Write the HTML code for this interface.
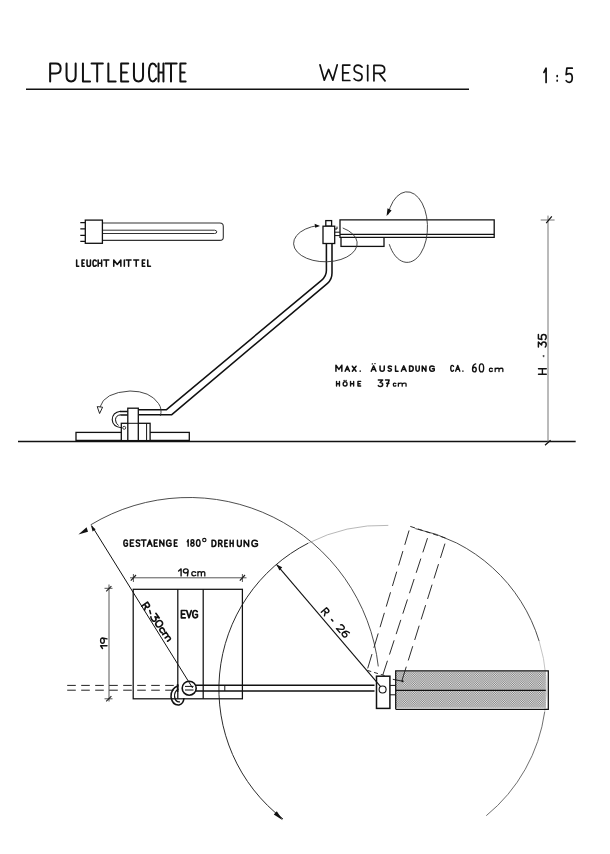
<!DOCTYPE html>
<html><head><meta charset="utf-8"><title>Pultleuchte Wesir</title>
<style>
html,body{margin:0;padding:0;background:#fff;}
body{width:610px;height:854px;overflow:hidden;font-family:"Liberation Sans",sans-serif;}
svg{display:block;}
</style></head><body>
<svg width="610" height="854" viewBox="0 0 610 854">
<rect width="610" height="854" fill="#fff"/>
<g fill="none" stroke="#111" stroke-width="2.0" stroke-linecap="round" stroke-linejoin="round"><path d="M0 1 L0 0 L0.3 0 Q0.55 0 0.55 0.27 Q0.55 0.55 0.3 0.55 L0 0.55" transform="translate(50.15,63.60) scale(19.091,17.800)" vector-effect="non-scaling-stroke"/><path d="M0 0 L0 0.7 Q0 1 0.29 1 Q0.58 1 0.58 0.7 L0.58 0" transform="translate(66.55,63.60) scale(15.690,17.800)" vector-effect="non-scaling-stroke"/><path d="M0 0 L0 1 L0.48 1" transform="translate(82.95,63.60) scale(14.792,17.800)" vector-effect="non-scaling-stroke"/><path d="M0 0 L0.6 0 M0.3 0 L0.3 1" transform="translate(91.55,63.60) scale(18.833,17.800)" vector-effect="non-scaling-stroke"/><path d="M0 0 L0 1 L0.48 1" transform="translate(108.35,63.60) scale(15.208,17.800)" vector-effect="non-scaling-stroke"/><path d="M0.5 0 L0 0 L0 1 L0.5 1 M0 0.5 L0.4 0.5" transform="translate(121.15,63.60) scale(14.200,17.800)" vector-effect="non-scaling-stroke"/><path d="M0 0 L0 0.7 Q0 1 0.29 1 Q0.58 1 0.58 0.7 L0.58 0" transform="translate(133.95,63.60) scale(15.690,17.800)" vector-effect="non-scaling-stroke"/><path d="M0.58 0.16 Q0.45 0 0.3 0 Q0 0 0 0.5 Q0 1 0.3 1 Q0.45 1 0.58 0.84" transform="translate(148.95,63.60) scale(12.586,17.800)" vector-effect="non-scaling-stroke"/><path d="M0 0 L0 1 M0.58 0 L0.58 1 M0 0.5 L0.58 0.5" transform="translate(158.55,63.60) scale(8.448,17.800)" vector-effect="non-scaling-stroke"/><path d="M0 0 L0.6 0 M0.3 0 L0.3 1" transform="translate(165.35,63.60) scale(18.833,17.800)" vector-effect="non-scaling-stroke"/><path d="M0.5 0 L0 0 L0 1 L0.5 1 M0 0.5 L0.4 0.5" transform="translate(180.35,63.60) scale(10.600,17.800)" vector-effect="non-scaling-stroke"/></g>
<g fill="none" stroke="#111" stroke-width="1.7" stroke-linecap="round" stroke-linejoin="round"><path d="M0 0 L0.24 1 L0.475 0.3 L0.71 1 L0.95 0" transform="translate(319.95,64.80) scale(18.211,15.400)" vector-effect="non-scaling-stroke"/><path d="M0.5 0 L0 0 L0 1 L0.5 1 M0 0.5 L0.4 0.5" transform="translate(342.75,65.08) scale(14.200,15.400)" vector-effect="non-scaling-stroke"/><path d="M0.52 0.12 Q0.4 0 0.26 0 Q0 0 0 0.25 Q0 0.45 0.26 0.5 Q0.52 0.55 0.52 0.75 Q0.52 1 0.26 1 Q0.1 1 0 0.88" transform="translate(354.15,65.21) scale(15.192,15.400)" vector-effect="non-scaling-stroke"/><path d="M0.02 0 L0.02 1" transform="translate(367.40,65.37) scale(15.400,15.400)" vector-effect="non-scaling-stroke"/><path d="M0 1 L0 0 L0.3 0 Q0.55 0 0.55 0.26 Q0.55 0.52 0.3 0.52 L0 0.52 M0.27 0.52 L0.57 1" transform="translate(373.95,65.45) scale(19.455,15.400)" vector-effect="non-scaling-stroke"/></g>
<g fill="none" stroke="#111" stroke-width="1.7" stroke-linecap="round" stroke-linejoin="round"><path d="M0 0.3 L0.26 0 L0.26 1" transform="translate(543.95,68.20) scale(8.214,14.200)" vector-effect="non-scaling-stroke"/><path d="M0.02 0.52 L0.02 0.58 M0.02 0.85 L0.02 0.9" transform="translate(556.90,68.20) scale(14.200,14.200)" vector-effect="non-scaling-stroke"/><path d="M0.5 0 L0.06 0 L0 0.45 Q0.15 0.38 0.27 0.38 Q0.5 0.38 0.5 0.68 Q0.5 1 0.25 1 Q0.08 1 0 0.88" transform="translate(566.15,68.20) scale(12.200,14.200)" vector-effect="non-scaling-stroke"/></g>
<line x1="26" y1="89.3" x2="469" y2="89.3" stroke="#111" stroke-width="1.5"/>
<g fill="none" stroke="#222" stroke-width="1.1"><path d="M102.4 223 L219.8 223 Q223.3 223 223.3 226.4 L223.3 237.2 Q223.3 240.4 219.8 240.4 L102.4 240.4" stroke="#333"/><path d="M102.4 230.2 L214.6 230.2 Q216.8 230.4 216.8 231.9 Q216.8 233.4 214.6 233.5 L102.4 233.5" stroke="#333" stroke-width="1"/><path d="M80.3 222.7 H85.2 M80.3 228.9 H85.2 M80.3 235.3 H85.2 M80.3 241.4 H85.2" stroke-width="1.3" stroke="#111"/><rect x="85.3" y="220.1" width="17.1" height="23.2" stroke="#111" stroke-width="1.3"/></g>
<g fill="none" stroke="#111" stroke-width="1.55" stroke-linecap="round" stroke-linejoin="round"><path d="M0 0 L0 1 L0.48 1" transform="translate(76.65,260.00) scale(4.375,6.300)" vector-effect="non-scaling-stroke"/><path d="M0.5 0 L0 0 L0 1 L0.5 1 M0 0.5 L0.4 0.5" transform="translate(82.05,260.00) scale(4.400,6.300)" vector-effect="non-scaling-stroke"/><path d="M0 0 L0 0.7 Q0 1 0.29 1 Q0.58 1 0.58 0.7 L0.58 0" transform="translate(87.05,260.00) scale(5.862,6.300)" vector-effect="non-scaling-stroke"/><path d="M0.58 0.16 Q0.45 0 0.3 0 Q0 0 0 0.5 Q0 1 0.3 1 Q0.45 1 0.58 0.84" transform="translate(92.95,260.00) scale(5.690,6.300)" vector-effect="non-scaling-stroke"/><path d="M0 0 L0 1 M0.58 0 L0.58 1 M0 0.5 L0.58 0.5" transform="translate(98.15,260.00) scale(6.034,6.300)" vector-effect="non-scaling-stroke"/><path d="M0 0 L0.6 0 M0.3 0 L0.3 1" transform="translate(103.75,260.00) scale(8.500,6.300)" vector-effect="non-scaling-stroke"/><path d="M0 1 L0 0 L0.4 0.7 L0.8 0 L0.8 1" transform="translate(113.75,260.00) scale(8.875,6.300)" vector-effect="non-scaling-stroke"/><path d="M0.02 0 L0.02 1" transform="translate(124.20,260.00) scale(6.300,6.300)" vector-effect="non-scaling-stroke"/><path d="M0 0 L0.6 0 M0.3 0 L0.3 1" transform="translate(126.15,260.00) scale(8.167,6.300)" vector-effect="non-scaling-stroke"/><path d="M0 0 L0.6 0 M0.3 0 L0.3 1" transform="translate(133.75,260.00) scale(8.167,6.300)" vector-effect="non-scaling-stroke"/><path d="M0.5 0 L0 0 L0 1 L0.5 1 M0 0.5 L0.4 0.5" transform="translate(142.35,260.00) scale(5.000,6.300)" vector-effect="non-scaling-stroke"/><path d="M0 0 L0 1 L0.48 1" transform="translate(147.75,260.00) scale(5.625,6.300)" vector-effect="non-scaling-stroke"/></g>
<line x1="18" y1="441.5" x2="575.7" y2="441.5" stroke="#111" stroke-width="1.5"/>
<g stroke="#777" stroke-width="1" fill="none"><line x1="548" y1="215.6" x2="548" y2="442"/><line x1="540.7" y1="220" x2="554.6" y2="220"/><path d="M546.2 223.2 L551.8 216.4 M545 445.2 L550.6 440.2" stroke="#111" stroke-width="1.2"/></g>
<g transform="translate(546.3,374.2) rotate(-90)" fill="none" stroke="#111" stroke-width="1.4" stroke-linecap="round" stroke-linejoin="round" style="vector-effect:non-scaling-stroke"><path d="M0 0 L0 1 M0.58 0 L0.58 1 M0 0.5 L0.58 0.5" transform="translate(0.00,-7.80) scale(9.310,7.800)" vector-effect="non-scaling-stroke"/></g>
<path d="M543.6 357.2 L543 355.6 L544.6 356" stroke="#222" stroke-width="0.9" fill="none"/>
<g transform="translate(546.2,347) rotate(-90)" fill="none" stroke="#111" stroke-width="1.5" stroke-linecap="round" stroke-linejoin="round" style="vector-effect:non-scaling-stroke"><path d="M0 0 L0.5 0 L0.2 0.4 Q0.5 0.4 0.5 0.7 Q0.5 1 0.25 1 Q0.08 1 0 0.88" transform="translate(0.00,-7.80) scale(10.080,7.800)" vector-effect="non-scaling-stroke"/><path d="M0.5 0 L0.06 0 L0 0.45 Q0.15 0.38 0.27 0.38 Q0.5 0.38 0.5 0.68 Q0.5 1 0.25 1 Q0.08 1 0 0.88" transform="translate(7.56,-7.80) scale(10.080,7.800)" vector-effect="non-scaling-stroke"/></g>
<path d="M138.5 409.8 L166.2 409.8 L321.5 280.3 Q326.4 276.2 326.4 270.5 L326.4 243.5 L332 243.5 L332 273 Q332 279.5 327.5 283.3 L171.5 414.8 L138.5 414.8 Z" fill="#fff" stroke="none"/>
<path d="M138.5 409.8 L166.2 409.8 L321.5 280.3 Q326.4 276.2 326.4 270.5 L326.4 243.5 M138.5 414.8 L171.5 414.8 L327.5 283.3 Q332 279.5 332 273 L332 243.5" fill="none" stroke="#111" stroke-width="1.55" stroke-linejoin="round"/>
<g fill="#fff" stroke="#111" stroke-width="1.3"><rect x="341" y="237.3" width="43" height="9.1"/><path d="M340 219.9 H494.2 V237.3 H340 Z"/><path d="M340 234.3 H494.2" stroke-width="1.3"/><path d="M334.5 232.2 H340 M334.5 235.6 H340 M334.5 229 H337 V226.6" stroke-width="1"/><rect x="325.8" y="220.6" width="5.8" height="5.6"/><rect x="323" y="226.2" width="11.7" height="17.3"/></g>
<path d="M342.72 227.97 A31.8 18.4 0 1 1 318.25 225.47" fill="none" stroke="#333" stroke-width="0.9"/>
<path d="M320 226 L314.6 223.8 L315.2 227.8 Z" fill="#111"/>
<path d="M388.05 214.45 A20.4 35.3 0 1 1 389.26 244.21" fill="none" stroke="#333" stroke-width="0.9"/>
<path d="M386.6 216 L387.5 208.3 L391.6 210.6 Z" fill="#111"/>
<g fill="#fff" stroke="#111" stroke-width="1.3"><rect x="76" y="432.4" width="113.3" height="8"/><rect x="121.3" y="423.3" width="28.8" height="17.3"/><rect x="127.8" y="408.2" width="10.5" height="32.4"/><path d="M146.6 423.3 V440.6" fill="none" stroke-width="1"/><path d="M127.8 423.3 H138.3" fill="none" stroke-width="1"/></g>
<path d="M127.8 411.5 H120 M127.8 415 H120.4" stroke="#111" stroke-width="1.6" fill="none"/>
<path d="M120.5 411.3 Q112.4 412.5 112.2 419.7 Q112.6 426.6 121.6 427.8" stroke="#111" stroke-width="1.1" fill="none"/>
<path d="M120.6 414.8 Q115.6 415.4 115.5 419.8 Q115.6 423.8 118.6 425.4" stroke="#111" stroke-width="1" fill="none"/>
<circle cx="124.2" cy="427.8" r="1.5" stroke="#111" stroke-width="0.8" fill="none"/>
<path d="M160.3 416 Q162.5 409 158.5 403.5 Q150 391 130 391 Q104 392.5 100 407" fill="none" stroke="#333" stroke-width="0.9"/>
<path d="M99.6 413.5 L97.2 406.6 L102.6 407.2 Z" fill="#fff" stroke="#111" stroke-width="0.9"/>
<g fill="none" stroke="#111" stroke-width="1.5" stroke-linecap="round" stroke-linejoin="round"><path d="M0 1 L0 0 L0.4 0.7 L0.8 0 L0.8 1" transform="translate(335.95,365.20) scale(7.375,6.000)" vector-effect="non-scaling-stroke"/></g>
<g fill="none" stroke="#111" stroke-width="1.5" stroke-linecap="round" stroke-linejoin="round"><path d="M0 1 L0.35 0 L0.7 1 M0.13 0.66 L0.57 0.66" transform="translate(345.15,366.20) scale(6.143,5.000)" vector-effect="non-scaling-stroke"/><path d="M0 0 L0.6 1 M0.6 0 L0 1" transform="translate(352.35,366.20) scale(6.167,5.000)" vector-effect="non-scaling-stroke"/><path d="M0.02 0.95 L0.02 1" transform="translate(360.10,366.20) scale(5.000,5.000)" vector-effect="non-scaling-stroke"/></g>
<g fill="none" stroke="#111" stroke-width="1.5" stroke-linecap="round" stroke-linejoin="round"><path d="M0 1 L0.35 0 L0.7 1 M0.13 0.66 L0.57 0.66" transform="translate(371.25,365.90) scale(6.714,5.300)" vector-effect="non-scaling-stroke"/><path d="M0 0 L0 0.7 Q0 1 0.29 1 Q0.58 1 0.58 0.7 L0.58 0" transform="translate(380.05,365.90) scale(7.241,5.300)" vector-effect="non-scaling-stroke"/><path d="M0.52 0.12 Q0.4 0 0.26 0 Q0 0 0 0.25 Q0 0.45 0.26 0.5 Q0.52 0.55 0.52 0.75 Q0.52 1 0.26 1 Q0.1 1 0 0.88" transform="translate(388.15,365.90) scale(6.346,5.300)" vector-effect="non-scaling-stroke"/><path d="M0 0 L0 1 L0.48 1" transform="translate(395.55,365.90) scale(5.208,5.300)" vector-effect="non-scaling-stroke"/><path d="M0 1 L0.35 0 L0.7 1 M0.13 0.66 L0.57 0.66" transform="translate(401.35,365.90) scale(6.857,5.300)" vector-effect="non-scaling-stroke"/><path d="M0 0 L0 1 L0.22 1 Q0.58 1 0.58 0.5 Q0.58 0 0.22 0 L0 0" transform="translate(409.55,365.90) scale(6.379,5.300)" vector-effect="non-scaling-stroke"/><path d="M0 0 L0 0.7 Q0 1 0.29 1 Q0.58 1 0.58 0.7 L0.58 0" transform="translate(415.95,365.90) scale(5.690,5.300)" vector-effect="non-scaling-stroke"/><path d="M0 1 L0 0 L0.6 1 L0.6 0" transform="translate(422.25,365.90) scale(6.167,5.300)" vector-effect="non-scaling-stroke"/><path d="M0.58 0.16 Q0.45 0 0.3 0 Q0 0 0 0.5 Q0 1 0.3 1 Q0.5 1 0.6 0.85 L0.6 0.55 L0.36 0.55" transform="translate(429.65,365.90) scale(7.667,5.300)" vector-effect="non-scaling-stroke"/></g>
<path d="M372.2 363.9 l0.4 0 M374.8 363.6 l0.4 0" stroke="#111" stroke-width="1.1" stroke-linecap="round"/>
<g fill="none" stroke="#111" stroke-width="1.4" stroke-linecap="round" stroke-linejoin="round"><path d="M0.58 0.16 Q0.45 0 0.3 0 Q0 0 0 0.5 Q0 1 0.3 1 Q0.45 1 0.58 0.84" transform="translate(450.75,365.40) scale(4.828,5.800)" vector-effect="non-scaling-stroke"/><path d="M0 1 L0.35 0 L0.7 1 M0.13 0.66 L0.57 0.66" transform="translate(455.65,365.40) scale(6.000,5.800)" vector-effect="non-scaling-stroke"/><path d="M0.02 0.95 L0.02 1" transform="translate(462.80,365.40) scale(5.800,5.800)" vector-effect="non-scaling-stroke"/></g>
<g fill="none" stroke="#111" stroke-width="1.4" stroke-linecap="round" stroke-linejoin="round"><path d="M0.42 0 Q0 0.1 0 0.68 Q0 1 0.25 1 Q0.5 1 0.5 0.7 Q0.5 0.42 0.25 0.42 Q0.08 0.42 0 0.66" transform="translate(472.55,363.90) scale(7.400,8.000)" vector-effect="non-scaling-stroke"/><path d="M0.25 0 Q0 0 0 0.5 Q0 1 0.25 1 Q0.5 1 0.5 0.5 Q0.5 0 0.25 0" transform="translate(479.35,363.90) scale(8.600,8.000)" vector-effect="non-scaling-stroke"/></g>
<g fill="none" stroke="#111" stroke-width="1.3" stroke-linecap="round" stroke-linejoin="round"><path d="M0.4 0.5 Q0.3 0.4 0.2 0.4 Q0 0.4 0 0.7 Q0 1 0.2 1 Q0.3 1 0.4 0.9" transform="translate(489.35,366.10) scale(7.750,5.400)" vector-effect="non-scaling-stroke"/><path d="M0 0.4 L0 1 M0 0.55 Q0.1 0.4 0.2 0.4 Q0.35 0.4 0.35 0.55 L0.35 1 M0.35 0.55 Q0.45 0.4 0.55 0.4 Q0.7 0.4 0.7 0.55 L0.7 1" transform="translate(495.15,366.10) scale(11.000,5.400)" vector-effect="non-scaling-stroke"/></g>
<g fill="none" stroke="#111" stroke-width="1.4" stroke-linecap="round" stroke-linejoin="round"><path d="M0 0 L0 1 M0.58 0 L0.58 1 M0 0.5 L0.58 0.5" transform="translate(336.55,381.40) scale(5.000,4.600)" vector-effect="non-scaling-stroke"/><path d="M0.3 0.1 Q0 0.1 0 0.55 Q0 1 0.3 1 Q0.6 1 0.6 0.55 Q0.6 0.1 0.3 0.1 M0.15 -0.2 L0.15 -0.12 M0.45 -0.2 L0.45 -0.12" transform="translate(343.15,381.40) scale(6.500,4.600)" vector-effect="non-scaling-stroke"/><path d="M0 0 L0 1 M0.58 0 L0.58 1 M0 0.5 L0.58 0.5" transform="translate(350.55,381.40) scale(5.345,4.600)" vector-effect="non-scaling-stroke"/><path d="M0.5 0 L0 0 L0 1 L0.5 1 M0 0.5 L0.4 0.5" transform="translate(357.95,381.40) scale(5.400,4.600)" vector-effect="non-scaling-stroke"/></g>
<g fill="none" stroke="#111" stroke-width="1.5" stroke-linecap="round" stroke-linejoin="round"><path d="M0 0 L0.5 0 L0.2 0.4 Q0.5 0.4 0.5 0.7 Q0.5 1 0.25 1 Q0.08 1 0 0.88" transform="translate(378.35,380.00) scale(8.600,6.400)" vector-effect="non-scaling-stroke"/><path d="M0 0 L0.5 0 L0.2 1 M0.15 0.5 L0.47 0.5" transform="translate(385.55,380.00) scale(7.200,6.400)" vector-effect="non-scaling-stroke"/></g>
<g fill="none" stroke="#111" stroke-width="1.3" stroke-linecap="round" stroke-linejoin="round"><path d="M0.4 0.5 Q0.3 0.4 0.2 0.4 Q0 0.4 0 0.7 Q0 1 0.2 1 Q0.3 1 0.4 0.9" transform="translate(393.35,381.00) scale(6.250,5.200)" vector-effect="non-scaling-stroke"/><path d="M0 0.4 L0 1 M0 0.55 Q0.1 0.4 0.2 0.4 Q0.35 0.4 0.35 0.55 L0.35 1 M0.35 0.55 Q0.45 0.4 0.55 0.4 Q0.7 0.4 0.7 0.55 L0.7 1" transform="translate(398.35,381.00) scale(11.000,5.200)" vector-effect="non-scaling-stroke"/></g>
<path d="M90.66 524.84 A190.5 190.5 0 0 1 378.28 666.43" fill="none" stroke="#3a3a3a" stroke-width="0.9"/>
<path d="M282.95 818.87 A163.7 163.7 0 0 1 308.28 543.14" fill="none" stroke="#2c2c2c" stroke-width="1"/>
<path d="M308.28 543.14 A163.7 163.7 0 0 1 388.31 525.40" fill="none" stroke="#999" stroke-width="0.7"/>
<path d="M415.24 528.59 A163.7 163.7 0 0 1 539.15 641.14" fill="none" stroke="#3a3a3a" stroke-width="0.9"/>
<path d="M539.15 641.14 A163.7 163.7 0 0 1 544.71 711.78" fill="none" stroke="#b5b5b5" stroke-width="0.8"/>
<path d="M544.71 711.78 A163.7 163.7 0 0 1 486.28 815.68" fill="none" stroke="#555" stroke-width="0.85"/>
<path d="M78.4 534.4 L86.6 527.3 L88 531.8 Z" fill="#111"/>
<path d="M91 525.4 L95.6 529.2 L92.6 531.4 Z" fill="#111"/>
<path d="M282.8 820.2 L273.8 814.6 L276.8 811.2 Z" fill="#111"/>
<path d="M276.6 564.6 L282.2 567.2 L279.4 570.4 Z" fill="#111"/>
<g fill="none" stroke="#111" stroke-width="1.25"><rect x="133.2" y="589.3" width="109.2" height="109.5"/><path d="M177.8 589.3 V698.8 M203.2 589.3 V698.8"/></g>
<g fill="none" stroke="#222" stroke-width="0.9"><path d="M130 577.8 H246.5 M133.4 574 V582 M242.4 574 V582" stroke="#444"/><path d="M130.8 580.6 L136 575 M239.8 580.6 L245 575" stroke-width="1.2"/><path d="M109 584.5 V701.5 M104.5 588.3 H112.5 M104.5 698.8 H112.5" stroke="#444"/><path d="M106.2 591.4 L111.4 586.2 M106.2 701.4 L111.4 696.2" stroke-width="1.1"/></g>
<g transform="translate(178.6,575.9) rotate(0)" fill="none" stroke="#111" stroke-width="1.4" stroke-linecap="round" stroke-linejoin="round" style="vector-effect:non-scaling-stroke"><path d="M0 0.3 L0.26 0 L0.26 1" transform="translate(0.00,-7.00) scale(9.600,7.000)" vector-effect="non-scaling-stroke"/><path d="M0.5 0.3 Q0.5 0 0.25 0 Q0 0 0 0.3 Q0 0.58 0.25 0.58 Q0.45 0.58 0.5 0.3 L0.42 1" transform="translate(4.80,-7.00) scale(9.600,7.000)" vector-effect="non-scaling-stroke"/></g>
<g transform="translate(191.8,575.9) rotate(0)" fill="none" stroke="#111" stroke-width="1.3" stroke-linecap="round" stroke-linejoin="round" style="vector-effect:non-scaling-stroke"><path d="M0.4 0.5 Q0.3 0.4 0.2 0.4 Q0 0.4 0 0.7 Q0 1 0.2 1 Q0.3 1 0.4 0.9" transform="translate(0.00,-7.00) scale(9.848,7.000)" vector-effect="non-scaling-stroke"/><path d="M0 0.4 L0 1 M0 0.55 Q0.1 0.4 0.2 0.4 Q0.35 0.4 0.35 0.55 L0.35 1 M0.35 0.55 Q0.45 0.4 0.55 0.4 Q0.7 0.4 0.7 0.55 L0.7 1" transform="translate(6.11,-7.00) scale(9.848,7.000)" vector-effect="non-scaling-stroke"/></g>
<g transform="translate(107,648.5) rotate(-90)" fill="none" stroke="#111" stroke-width="1.4" stroke-linecap="round" stroke-linejoin="round" style="vector-effect:non-scaling-stroke"><path d="M0 0.3 L0.26 0 L0.26 1" transform="translate(0.00,-6.40) scale(10.500,6.400)" vector-effect="non-scaling-stroke"/><path d="M0.5 0.3 Q0.5 0 0.25 0 Q0 0 0 0.3 Q0 0.58 0.25 0.58 Q0.45 0.58 0.5 0.3 L0.42 1" transform="translate(5.25,-6.40) scale(10.500,6.400)" vector-effect="non-scaling-stroke"/></g>
<g transform="translate(181.4,617.8) rotate(0)" fill="none" stroke="#111" stroke-width="1.7" stroke-linecap="round" stroke-linejoin="round" style="vector-effect:non-scaling-stroke"><path d="M0.5 0 L0 0 L0 1 L0.5 1 M0 0.5 L0.4 0.5" transform="translate(0.00,-7.30) scale(7.767,7.300)" vector-effect="non-scaling-stroke"/><path d="M0 0 L0.3 1 L0.6 0" transform="translate(5.28,-7.30) scale(7.767,7.300)" vector-effect="non-scaling-stroke"/><path d="M0.58 0.16 Q0.45 0 0.3 0 Q0 0 0 0.5 Q0 1 0.3 1 Q0.5 1 0.6 0.85 L0.6 0.55 L0.36 0.55" transform="translate(11.34,-7.30) scale(7.767,7.300)" vector-effect="non-scaling-stroke"/></g>
<g fill="none" stroke="#111" stroke-width="1.5" stroke-linecap="round" stroke-linejoin="round"><path d="M0.58 0.16 Q0.45 0 0.3 0 Q0 0 0 0.5 Q0 1 0.3 1 Q0.5 1 0.6 0.85 L0.6 0.55 L0.36 0.55" transform="translate(123.85,539.90) scale(6.000,6.300)" vector-effect="non-scaling-stroke"/><path d="M0.5 0 L0 0 L0 1 L0.5 1 M0 0.5 L0.4 0.5" transform="translate(130.35,539.90) scale(6.600,6.300)" vector-effect="non-scaling-stroke"/><path d="M0.52 0.12 Q0.4 0 0.26 0 Q0 0 0 0.25 Q0 0.45 0.26 0.5 Q0.52 0.55 0.52 0.75 Q0.52 1 0.26 1 Q0.1 1 0 0.88" transform="translate(136.25,539.90) scale(6.731,6.300)" vector-effect="non-scaling-stroke"/><path d="M0 0 L0.6 0 M0.3 0 L0.3 1" transform="translate(141.35,539.90) scale(7.833,6.300)" vector-effect="non-scaling-stroke"/><path d="M0 1 L0.35 0 L0.7 1 M0.13 0.66 L0.57 0.66" transform="translate(147.35,539.90) scale(6.714,6.300)" vector-effect="non-scaling-stroke"/><path d="M0.5 0 L0 0 L0 1 L0.5 1 M0 0.5 L0.4 0.5" transform="translate(154.25,539.90) scale(6.000,6.300)" vector-effect="non-scaling-stroke"/><path d="M0 1 L0 0 L0.6 1 L0.6 0" transform="translate(159.85,539.90) scale(6.667,6.300)" vector-effect="non-scaling-stroke"/><path d="M0.58 0.16 Q0.45 0 0.3 0 Q0 0 0 0.5 Q0 1 0.3 1 Q0.5 1 0.6 0.85 L0.6 0.55 L0.36 0.55" transform="translate(166.55,539.90) scale(7.500,6.300)" vector-effect="non-scaling-stroke"/><path d="M0.5 0 L0 0 L0 1 L0.5 1 M0 0.5 L0.4 0.5" transform="translate(174.35,539.90) scale(5.600,6.300)" vector-effect="non-scaling-stroke"/></g>
<g fill="none" stroke="#111" stroke-width="1.4" stroke-linecap="round" stroke-linejoin="round"><path d="M0 0.3 L0.26 0 L0.26 1" transform="translate(187.25,539.70) scale(3.571,6.600)" vector-effect="non-scaling-stroke"/><path d="M0.25 0.46 Q0.03 0.42 0.03 0.22 Q0.03 0 0.25 0 Q0.47 0 0.47 0.22 Q0.47 0.42 0.25 0.46 Q0 0.5 0 0.74 Q0 1 0.25 1 Q0.5 1 0.5 0.74 Q0.5 0.5 0.25 0.46" transform="translate(190.75,539.70) scale(6.800,6.600)" vector-effect="non-scaling-stroke"/><path d="M0.25 0 Q0 0 0 0.5 Q0 1 0.25 1 Q0.5 1 0.5 0.5 Q0.5 0 0.25 0" transform="translate(196.45,539.70) scale(7.200,6.600)" vector-effect="non-scaling-stroke"/></g>
<circle cx="204.3" cy="540.1" r="1.7" fill="none" stroke="#111" stroke-width="1.1"/>
<g fill="none" stroke="#111" stroke-width="1.5" stroke-linecap="round" stroke-linejoin="round"><path d="M0 0 L0 1 L0.22 1 Q0.58 1 0.58 0.5 Q0.58 0 0.22 0 L0 0" transform="translate(212.05,540.20) scale(6.724,6.300)" vector-effect="non-scaling-stroke"/><path d="M0 1 L0 0 L0.3 0 Q0.55 0 0.55 0.26 Q0.55 0.52 0.3 0.52 L0 0.52 M0.27 0.52 L0.57 1" transform="translate(218.65,540.20) scale(6.182,6.300)" vector-effect="non-scaling-stroke"/><path d="M0.5 0 L0 0 L0 1 L0.5 1 M0 0.5 L0.4 0.5" transform="translate(224.85,540.20) scale(5.000,6.300)" vector-effect="non-scaling-stroke"/><path d="M0 0 L0 1 M0.58 0 L0.58 1 M0 0.5 L0.58 0.5" transform="translate(230.15,540.20) scale(5.172,6.300)" vector-effect="non-scaling-stroke"/><path d="M0 0 L0 0.7 Q0 1 0.29 1 Q0.58 1 0.58 0.7 L0.58 0" transform="translate(237.45,540.20) scale(6.552,6.300)" vector-effect="non-scaling-stroke"/><path d="M0 1 L0 0 L0.6 1 L0.6 0" transform="translate(244.15,540.20) scale(7.500,6.300)" vector-effect="non-scaling-stroke"/><path d="M0.58 0.16 Q0.45 0 0.3 0 Q0 0 0 0.5 Q0 1 0.3 1 Q0.5 1 0.6 0.85 L0.6 0.55 L0.36 0.55" transform="translate(251.85,540.20) scale(9.333,6.300)" vector-effect="non-scaling-stroke"/></g>
<g transform="translate(141.8,606.2) rotate(54)" fill="none" stroke="#111" stroke-width="1.6" stroke-linecap="round" stroke-linejoin="round" style="vector-effect:non-scaling-stroke"><path d="M0 1 L0 0 L0.3 0 Q0.55 0 0.55 0.26 Q0.55 0.52 0.3 0.52 L0 0.52 M0.27 0.52 L0.57 1" transform="translate(0.00,-7.00) scale(8.364,7.000)" vector-effect="non-scaling-stroke"/></g>
<path d="M149.8 610.6 L150.6 613.6" stroke="#111" stroke-width="1.6" fill="none" stroke-linecap="round"/>
<g transform="translate(150.2,617.4) rotate(54)" fill="none" stroke="#111" stroke-width="1.6" stroke-linecap="round" stroke-linejoin="round" style="vector-effect:non-scaling-stroke"><path d="M0 0 L0.5 0 L0.2 0.4 Q0.5 0.4 0.5 0.7 Q0.5 1 0.25 1 Q0.08 1 0 0.88" transform="translate(0.00,-7.00) scale(11.569,7.000)" vector-effect="non-scaling-stroke"/><path d="M0.25 0 Q0 0 0 0.5 Q0 1 0.25 1 Q0.5 1 0.5 0.5 Q0.5 0 0.25 0" transform="translate(7.52,-7.00) scale(11.569,7.000)" vector-effect="non-scaling-stroke"/><path d="M0.4 0.5 Q0.3 0.4 0.2 0.4 Q0 0.4 0 0.7 Q0 1 0.2 1 Q0.3 1 0.4 0.9" transform="translate(15.04,-7.00) scale(11.569,7.000)" vector-effect="non-scaling-stroke"/><path d="M0 0.4 L0 1 M0 0.55 Q0.1 0.4 0.2 0.4 Q0.35 0.4 0.35 0.55 L0.35 1 M0.35 0.55 Q0.45 0.4 0.55 0.4 Q0.7 0.4 0.7 0.55 L0.7 1" transform="translate(21.40,-7.00) scale(11.569,7.000)" vector-effect="non-scaling-stroke"/></g>
<g transform="translate(321.3,612.3) rotate(48.5)" fill="none" stroke="#111" stroke-width="1.4" stroke-linecap="round" stroke-linejoin="round" style="vector-effect:non-scaling-stroke"><path d="M0 1 L0 0 L0.3 0 Q0.55 0 0.55 0.26 Q0.55 0.52 0.3 0.52 L0 0.52 M0.27 0.52 L0.57 1" transform="translate(0.00,-7.00) scale(8.364,7.000)" vector-effect="non-scaling-stroke"/></g>
<path d="M331.6 619.6 L332.8 621" stroke="#111" stroke-width="1.6" fill="none" stroke-linecap="round"/>
<g transform="translate(336.4,628.6) rotate(48.5)" fill="none" stroke="#111" stroke-width="1.4" stroke-linecap="round" stroke-linejoin="round" style="vector-effect:non-scaling-stroke"><path d="M0 0.2 Q0.05 0 0.26 0 Q0.5 0 0.5 0.25 Q0.5 0.45 0 1 L0.52 1" transform="translate(0.00,-7.00) scale(10.246,7.000)" vector-effect="non-scaling-stroke"/><path d="M0.42 0 Q0 0.1 0 0.68 Q0 1 0.25 1 Q0.5 1 0.5 0.7 Q0.5 0.42 0.25 0.42 Q0.08 0.42 0 0.66" transform="translate(7.38,-7.00) scale(10.246,7.000)" vector-effect="non-scaling-stroke"/></g>
<path d="M67.2 685.4 H177 M67.2 690.2 H177" stroke="#222" stroke-width="1" stroke-dasharray="8.6 5.4" fill="none"/>
<path d="M196 685.3 H374.5 M196 690.9 H374.5" stroke="#111" stroke-width="1.5" fill="none"/>
<path d="M224.8 685.4 V690.9" stroke="#111" stroke-width="1" fill="none"/>
<circle cx="189.2" cy="688.2" r="7" fill="#fff" stroke="#111" stroke-width="1.6"/>
<path d="M185 686.4 H193.5 M185 690 H193.5" stroke="#111" stroke-width="1" fill="none"/>
<line x1="91.6" y1="525.5" x2="192.6" y2="688" stroke="#111" stroke-width="1"/>
<path d="M178.5 685.5 Q170.5 688.5 171 697 Q172.5 705.5 179 705 Q183.5 704 184 698" stroke="#111" stroke-width="1.5" fill="none"/>
<path d="M178.5 689 Q174 691.5 174.6 697 Q175.8 702.6 180 701.8" stroke="#111" stroke-width="1.2" fill="none"/>
<path d="M177.6 684 V692" stroke="#111" stroke-width="1.6" fill="none"/>
<defs><pattern id="dots" width="1.8" height="1.8" patternUnits="userSpaceOnUse"><rect width="1.8" height="1.8" fill="#ececec"/><rect x="0" y="0" width="0.8" height="0.8" fill="#5a5a5a"/><rect x="0.9" y="0.9" width="0.8" height="0.8" fill="#5a5a5a"/></pattern></defs>
<rect x="396" y="671.4" width="149.8" height="36.4" fill="url(#dots)"/>
<g fill="none" stroke="#111" stroke-width="1.3"><path d="M395.7 709.3 V670.9 H548.3 V709.3 H395.7" stroke-width="1.25"/><path d="M395.7 690.3 H545.8" stroke-width="1.25"/><path d="M390 685.4 H395.6 M390 694.8 H395.6" stroke-width="1"/></g>
<rect x="376.5" y="676.2" width="13.4" height="32.2" fill="#fff" stroke="#111" stroke-width="1.5"/>
<circle cx="382.6" cy="689.5" r="3.5" fill="#fff" stroke="#111" stroke-width="1.1"/>
<line x1="276.6" y1="564.6" x2="380.4" y2="686.4" stroke="#111" stroke-width="1.1"/>
<g fill="none" stroke="#222" stroke-width="0.95" stroke-dasharray="15 6.5"><path d="M367.7 668.4 L410.3 526.4"/><path d="M382.8 675 L429.5 532"/><path d="M401.8 681 L446.6 538.4"/><path d="M410.3 526.4 L446.6 538.4" stroke-dasharray="5 3"/><path d="M367.4 670.4 L384.6 675.6" stroke-dasharray="4 3"/></g>
<path d="M392.8 679.3 L402.4 681.2" stroke="#111" stroke-width="0.9"/><circle cx="402.6" cy="681.3" r="1" fill="#111"/>
</svg>
</body></html>
